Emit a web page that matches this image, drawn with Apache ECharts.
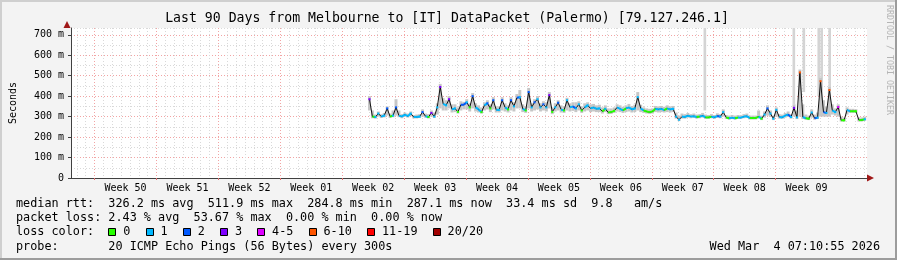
<!DOCTYPE html>
<html><head><meta charset="utf-8">
<script src="https://cdn.jsdelivr.net/npm/echarts@6/dist/echarts.min.js"></script>
<style>html,body{margin:0;padding:0;background:#f3f3f3}#c{width:897px;height:260px}</style>
</head><body><div id="c"></div>
<script>
// ---- data (days relative to Monday 00:00 starting Week 50) ----
const weekLabels = ['Week 50','Week 51','Week 52','Week 01','Week 02','Week 03','Week 04','Week 05','Week 06','Week 07','Week 08','Week 09'];
const yTicks = [0,100,200,300,400,500,600,700];
const xMin = -2.6667, xMax = 87.3333, yMax = 733;
const dataStartDay = 31.08;
const stepDays = 1/3;
const median = [385,300,298,315,300,305,340,300,305,345,305,300,310,302,315,298,298,300,322,302,
  298,318,300,345,445,362,355,385,335,340,323,358,358,370,345,400,345,335,322,355,
  365,340,380,333,333,380,345,335,380,350,392,395,338,330,420,345,370,385,345,360,
  345,405,323,345,368,335,330,380,345,350,340,360,330,345,355,340,345,338,340,325,
  338,320,322,328,345,338,330,340,345,335,340,395,340,330,325,322,325,338,335,338,
  332,340,335,338,300,285,300,298,305,300,302,298,300,305,296,296,300,296,303,300,
  322,296,292,295,292,296,295,300,302,293,293,293,300,290,310,340,315,290,333,298,
  296,305,310,298,343,296,516,298,292,290,320,292,295,473,322,318,430,330,322,347,
  282,282,333,326,326,326,283,283,287];
const loss = [3,0,1,1,1,1,2,0,1,2,1,1,1,1,1,1,1,1,2,1,
  0,3,1,1,3,1,1,3,1,1,0,2,2,1,0,2,1,1,0,1,
  2,0,2,1,1,2,1,0,2,1,2,1,1,0,2,1,2,1,1,2,
  1,3,0,1,2,1,0,1,1,2,1,1,0,1,1,1,1,1,1,0,
  1,0,0,0,1,1,0,1,1,1,1,1,1,0,0,0,0,1,1,1,
  0,1,1,1,1,1,1,1,1,1,1,0,1,1,0,0,1,1,2,1,
  1,0,1,1,0,1,1,1,1,0,0,0,1,0,1,2,1,1,1,1,
  1,1,2,1,3,1,5,1,0,0,1,2,1,5,2,1,5,1,1,4,
  0,0,1,0,0,0,0,0,1];
const smokeTop = [400,330,310,325,312,318,350,315,330,385,330,312,320,315,325,308,310,312,335,315,
  312,330,320,365,460,390,380,400,360,360,345,375,372,385,365,415,365,355,345,370,
  380,360,395,350,350,395,365,355,395,370,410,430,360,350,440,365,385,400,365,375,
  370,420,345,365,380,355,350,392,365,370,370,375,350,365,370,360,362,355,358,345,
  355,340,340,345,360,355,348,355,362,352,358,420,358,345,340,338,340,352,350,352,
  348,355,350,352,320,305,315,312,318,312,315,310,312,318,310,308,312,308,316,312,
  335,308,305,308,305,308,307,312,315,305,305,305,330,305,325,355,330,305,345,312,
  310,318,325,312,360,330,530,360,310,305,335,310,320,490,380,350,445,360,340,360,
  300,295,345,338,338,336,296,296,300];
const smokeBot = [330,292,290,300,293,296,305,293,297,305,297,292,300,295,302,291,291,293,300,295,
  291,300,293,310,340,330,330,340,320,322,315,330,335,335,325,340,325,320,315,330,
  335,322,335,320,320,330,325,320,330,325,340,340,322,318,340,325,330,335,325,330,
  325,340,312,325,330,320,318,330,325,328,322,330,318,325,330,322,325,322,322,315,
  322,312,313,318,325,322,318,322,325,320,322,330,322,318,315,313,315,322,320,322,
  320,322,320,322,290,278,290,290,295,292,293,290,292,295,289,289,292,289,294,292,
  300,289,285,288,285,289,288,292,293,286,286,286,292,283,295,305,298,283,300,290,
  289,295,298,290,300,288,300,288,285,283,295,285,288,300,300,300,300,310,305,300,
  276,276,310,318,318,318,276,276,280];
const spikeDays = [69.0, 79.06, 80.19, 81.88, 82.21, 83.11];
const spikeBase = [330, 360, 420, 400, 380, 380];
const lossNames = ['0','1','2','3','4-5','6-10','11-19','20/20'];
const lossColors = ['#26ff00','#00b8ff','#0059ff','#7e00ff','#dd00ff','#ff5500','#ff0000','#a10000'];
const legendRtt = 'median rtt:  326.2 ms avg  511.9 ms max  284.8 ms min  287.1 ms now  33.4 ms sd  9.8   am/s';
const legendLoss = 'packet loss: 2.43 % avg  53.67 % max  0.00 % min  0.00 % now';
const legendProbe = 'probe:       20 ICMP Echo Pings (56 Bytes) every 300s';
const stamp = 'Wed Mar  4 07:10:55 2026';
const title = 'Last 90 Days from Melbourne to [IT] DataPacket (Palermo) [79.127.246.1]';

// ---- derived ----
const days = median.map((_, i) => dataStartDay + i * stepDays);
const weekStarts = weekLabels.map((_, k) => k * 7);
const weekCenters = weekLabels.map((_, k) => k * 7 + 3.5);
const dayLines = [];
for (let d = Math.ceil(xMin); d <= Math.floor(xMax); d++) dayLines.push(d);

const MONO = 'DejaVu Sans Mono';
const LFONT = '11.8px "DejaVu Sans Mono"';
const chart = echarts.init(document.getElementById('c'), null, {renderer: 'canvas', width: 897, height: 260});

const graphics = [
  {type:'rect', shape:{x:0,y:0,width:897,height:2}, style:{fill:'#cfcfcf'}, silent:true},
  {type:'rect', shape:{x:0,y:0,width:2,height:260}, style:{fill:'#cfcfcf'}, silent:true},
  {type:'rect', shape:{x:0,y:258,width:897,height:2}, style:{fill:'#9c9c9c'}, silent:true},
  {type:'rect', shape:{x:895,y:0,width:2,height:260}, style:{fill:'#9c9c9c'}, silent:true},
  {type:'text', x:447, y:19, style:{text:title, font:'13.2px "DejaVu Sans Mono"', fill:'#000', align:'center', verticalAlign:'middle'}},
  {type:'text', x:889, y:5, rotation:-Math.PI/2, style:{text:'RRDTOOL / TOBI OETIKER', font:'8.3px "DejaVu Sans Mono"', fill:'#b4b4b4', align:'left', verticalAlign:'middle'}},
  {type:'text', x:16, y:204, style:{text:legendRtt, font:LFONT, fill:'#000', verticalAlign:'middle'}},
  {type:'text', x:16, y:218, style:{text:legendLoss, font:LFONT, fill:'#000', verticalAlign:'middle'}},
  {type:'text', x:16, y:232, style:{text:'loss color:', font:LFONT, fill:'#000', verticalAlign:'middle'}},
  {type:'text', x:16, y:247, style:{text:legendProbe, font:LFONT, fill:'#000', verticalAlign:'middle'}},
  {type:'text', x:880, y:247, style:{text:stamp, font:LFONT, fill:'#000', align:'right', verticalAlign:'middle'}},
  {type:'polygon', shape:{points:[[63.5,28],[70.5,28],[67,21]]}, style:{fill:'#a01818'}},
  {type:'polygon', shape:{points:[[867,174.5],[867,181.5],[874,178]]}, style:{fill:'#a01818'}}
];
// legend entries: box, space, label; each entry advances by box+label width
let bx = 108.3;
lossNames.forEach((n, i) => {
  graphics.push({type:'rect', shape:{x:Math.round(bx)+0.5, y:228.5, width:7, height:7}, style:{fill:lossColors[i], stroke:'#000', lineWidth:1}});
  graphics.push({type:'text', x:bx+15, y:232, style:{text:n, font:LFONT, fill:'#000', verticalAlign:'middle'}});
  bx += 37.2 + (n.length - 1) * 7.1;
});

const option = {
  backgroundColor: '#f3f3f3',
  animation: false,
  grid: {left: 67, right: 30, top: 28, bottom: 82, show: true, backgroundColor: '#ffffff', borderWidth: 0},
  xAxis: [
    {type:'value', min:xMin, max:xMax, position:'bottom', z:1,
     axisLine:{show:false}, axisTick:{show:false, customValues: dayLines}, axisLabel:{show:false},
     splitLine:{show:true, lineStyle:{color:'#d9d9d9', type:[1,2], width:1}}},
    {type:'value', min:xMin, max:xMax, position:'bottom', z:2,
     axisLine:{show:true, onZero:false, lineStyle:{color:'#404040', width:1}},
     axisTick:{show:true, customValues: weekStarts, length:2, lineStyle:{color:'#e07070'}},
     axisLabel:{show:true, customValues: weekCenters, formatter: v => weekLabels[Math.round((v - 3.5) / 7)] || '',
       fontFamily: MONO, fontSize: 10, color:'#000', margin: 5},
     splitLine:{show:true, lineStyle:{color:'#f2a4a4', type:[1,2], width:1}}}
  ],
  yAxis: [
    {type:'value', min:0, max:yMax, interval:50, z:1,
     axisLine:{show:false}, axisTick:{show:false}, axisLabel:{show:false},
     splitLine:{show:true, lineStyle:{color:['#f2a4a4','#d9d9d9'], type:[1,2], width:1}}},
    {type:'value', min:0, max:yMax, interval:100, z:2, position:'left',
     axisLine:{show:true, onZero:false, lineStyle:{color:'#404040', width:1}},
     axisTick:{show:true, length:3, customValues: yTicks, lineStyle:{color:'#404040'}},
     axisLabel:{show:true, customValues: yTicks, formatter: v => (v === 0 ? '0' : v + ' m'),
       fontFamily: MONO, fontSize: 10, color:'#000', margin: 7},
     splitLine:{show:false},
     name:'Seconds', nameLocation:'middle', nameRotate:90, nameGap:53,
     nameTextStyle:{fontFamily: MONO, fontSize: 10, color:'#000'}}
  ],
  series: [
    // off-scale smoke columns
    {type:'custom', xAxisIndex:1, yAxisIndex:1, silent:true, z:1, clip:true,
     data: spikeDays.map((d, i) => [d, spikeBase[i]]),
     renderItem: (params, api) => {
       const d = api.value(0), lo = api.value(1);
       const p0 = api.coord([d - 0.15, yMax]);
       const p1 = api.coord([d + 0.15, lo]);
       return {type:'rect', shape:{x:p0[0], y:p0[1], width:p1[0]-p0[0], height:p1[1]-p0[1]}, style:{fill:'#d4d4d4'}};
     }},
    // smoke band
    {type:'custom', xAxisIndex:1, yAxisIndex:1, silent:true, z:2, clip:true,
     data: days.map((d, i) => [d, smokeBot[i], smokeTop[i]]),
     encode:{x:0, y:[1,2]},
     renderItem: (params, api) => {
       const d = api.value(0), lo = api.value(1), hi = api.value(2);
       const p0 = api.coord([d - stepDays / 2, hi]);
       const p1 = api.coord([d + stepDays / 2, lo]);
       return {type:'rect', shape:{x:p0[0], y:p0[1], width:p1[0]-p0[0], height:p1[1]-p0[1]}, style:{fill:'#c6c6c6'}};
     }},
    // median trace (dark)
    {type:'line', xAxisIndex:1, yAxisIndex:1, silent:true, z:3,
     data: days.map((d, i) => [d, median[i]]), symbol:'none', lineStyle:{color:'#111', width:1}},
    // median coloured by packet loss
    {type:'custom', xAxisIndex:1, yAxisIndex:1, silent:true, z:4, clip:true,
     data: days.map((d, i) => [d, median[i], loss[i], i + 1 < days.length ? days[i + 1] : d, i + 1 < days.length ? median[i + 1] : median[i]]),
     encode:{x:0, y:1},
     renderItem: (params, api) => {
       const d = api.value(0), v = api.value(1), c = api.value(2), dn = api.value(3), vn = api.value(4);
       let p0, p1;
       if (Math.abs(vn - v) <= 14 && dn > d) { p0 = api.coord([d, v]); p1 = api.coord([dn, vn]); }
       else { p0 = api.coord([d - 0.12, v]); p1 = api.coord([d + 0.12, v]); }
       return {type:'line', shape:{x1:p0[0], y1:p0[1], x2:p1[0], y2:p1[1]}, style:{stroke: lossColors[c], lineWidth: 2}};
     }}
  ],
  graphic: graphics
};
chart.setOption(option);
</script>
</body></html>
